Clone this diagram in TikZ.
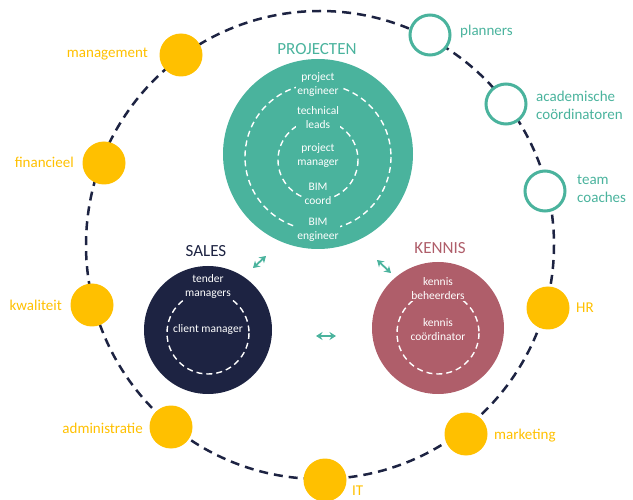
\documentclass[tikz,border=0pt]{standalone}
\usepackage{fontspec}
\setmainfont{Carlito}
\usetikzlibrary{arrows.meta}
\definecolor{teal1}{HTML}{4AB39D}
\definecolor{navy1}{HTML}{1D2342}
\definecolor{mauve1}{HTML}{AF5E6A}
\definecolor{yell1}{HTML}{FFC000}
\tikzset{
  ring/.style={draw=navy1, line width=2.5pt, dash pattern=on 9pt off 6pt},
  ydot/.style={circle, fill=yell1, minimum size=43pt, inner sep=0pt},
  tdot/.style={circle, draw=teal1, fill=white, line width=3pt, minimum size=40pt, inner sep=0pt},
  ylab/.style={text=yell1, font=\fontsize{15}{17}\selectfont, inner sep=0pt},
  tlab/.style={text=teal1, font=\fontsize{15}{18}\selectfont, inner sep=0pt, align=left},
  inring/.style={draw=white, line width=1.4pt, dash pattern=on 6pt off 4pt},
  intxt/.style={text=white, font=\fontsize{11.5}{14}\selectfont, inner sep=1pt, align=center},
  head/.style={font=\fontsize{17}{20}\selectfont, inner sep=0pt},
  dbl/.style={draw=teal1, line width=1.8pt, {Stealth[length=6.5pt,width=8pt]}-{Stealth[length=6.5pt,width=8pt]}},
}
\begin{document}
\begin{tikzpicture}[x=1pt, y=-1pt]
\useasboundingbox (0,0) rectangle (633,500);
% outer dashed ring
\draw[ring] (320,245) circle (234);
% yellow dots
\node[ydot] (mg) at (181,55) {};
\node[ydot] (fi) at (104,163) {};
\node[ydot] (kw) at (92,305) {};
\node[ydot] (ad) at (171,427) {};
\node[ydot] (it) at (325,480) {};
\node[ydot] (mk) at (466,434) {};
\node[ydot] (hr) at (548,308) {};
% teal dots
\node[tdot] (pl) at (430,35) {};
\node[tdot] (ac) at (506,104) {};
\node[tdot] (tc) at (545,191) {};
% labels
\node[ylab, anchor=east] (lmg) at (148,54) {management};
\node[ylab, anchor=east] (lfi) at (74,162) {financieel};
\node[ylab, anchor=east] (lkw) at (62,305) {kwaliteit};
\node[ylab, anchor=east] (lad) at (143,428) {administratie};
\node[ylab, anchor=west] (lmk) at (494,436) {marketing};
\node[ylab, anchor=west] (lit) at (352,491) {IT};
\node[ylab, anchor=west] (lhr) at (576,308) {HR};
\node[tlab, anchor=west] (lpl) at (460,32) {planners};
\node[tlab, anchor=west] (lac) at (536,105) {academische\\coördinatoren};
\node[tlab, anchor=west] (ltc) at (577,189) {team\\coaches};
% PROJECTEN
\node[head, text=teal1] (hp) at (317,49) {PROJECTEN};
\fill[teal1] (318,154) circle (95);
\draw[inring] (318,157) circle (73);
\draw[inring] (318,160) circle (40);
\node[intxt, fill=teal1] (p1) at (318,85) {project\\engineer};
\node[intxt, fill=teal1] (p2) at (318,118) {technical\\leads};
\node[intxt, fill=teal1] (p3) at (318,156) {project\\manager};
\node[intxt, fill=teal1] (p4) at (318,193.5) {BIM\\coord};
\node[intxt, fill=teal1] (p5) at (318,230) {BIM\\engineer};
% SALES
\node[head, text=navy1] (hs) at (206,251) {SALES};
\fill[navy1] (208,330) circle (64);
\draw[inring] (208,333) circle (41);
\node[intxt, fill=navy1] (s1) at (208,286.5) {tender\\managers};
\node[intxt, fill=navy1] (s2) at (208,329.5) {client manager};
% KENNIS
\node[head, text=mauve1] (hk) at (440,248) {KENNIS};
\fill[mauve1] (438,328) circle (66);
\draw[inring] (438,333) circle (41);
\node[intxt, fill=mauve1] (k1) at (438,288.5) {kennis\\beheerders};
\node[intxt, fill=mauve1] (k2) at (438,329.5) {kennis\\coördinator};
% arrows
\coordinate (a1s) at (253,268); \coordinate (a1e) at (266,256);
\coordinate (a2s) at (377,260); \coordinate (a2e) at (391,273);
\coordinate (a3s) at (316,336); \coordinate (a3e) at (336,336);
\draw[dbl] (a1s) -- (a1e);
\draw[dbl] (a2s) -- (a2e);
\draw[dbl] (a3s) -- (a3e);
\end{tikzpicture}
\end{document}
